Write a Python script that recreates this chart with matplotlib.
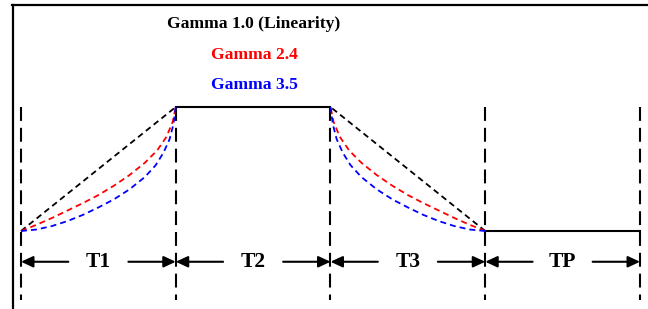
import matplotlib.pyplot as plt

plt.rcParams['font.family'] = ['Liberation Serif', 'DejaVu Serif']
plt.rcParams['lines.scale_dashes'] = False

# tramos de tiempo (limites) y niveles
limites = [0, 1, 2, 3, 4]
tramos = ['T1', 'T2', 'T3', 'TP']
nivel_bajo = 0.0
nivel_alto = 1.0

# curvas (fraccion de tiempo, fraccion de nivel) en la subida
t_rojo = [0, 0.1, 0.2, 0.3, 0.4, 0.5, 0.6, 0.7, 0.8, 0.88, 0.94, 0.98, 1.0]
f_rojo = [0, 0.05, 0.105, 0.165, 0.225, 0.29, 0.365, 0.45, 0.55, 0.65, 0.76, 0.88, 1.0]
t_azul = [0, 0.1, 0.2, 0.3, 0.4, 0.5, 0.6, 0.7, 0.8, 0.87, 0.92, 0.96, 0.985, 1.0]
f_azul = [0, 0.012, 0.04, 0.08, 0.13, 0.19, 0.255, 0.335, 0.435, 0.53, 0.63, 0.74, 0.86, 1.0]

etiquetas = ['Gamma 1.0 (Linearity)', 'Gamma 2.4', 'Gamma 3.5']
colores = ['black', 'red', 'blue']

fig = plt.figure(figsize=(6.48, 3.09), dpi=100)
ax = fig.add_axes([0, 0, 1, 1])
ax.set_xlim(-0.1357, 4.0517)
ax.set_ylim(-0.629, 1.863)
ax.axis('off')

# marco (arriba e izquierda)
ax.plot([0.0185, 1], [0.9854, 0.9854], color='black', lw=1.6, transform=ax.transAxes, clip_on=False)
ax.plot([0.0201, 0.0201], [0.9854, 0], color='black', lw=1.6, transform=ax.transAxes, clip_on=False)

# lineas verticales discontinuas
for x in limites:
    ax.plot([x, x], [nivel_alto, -0.56], color='black', lw=1.5, dashes=(10, 5))

# tramos constantes
ax.plot([limites[1], limites[2]], [nivel_alto, nivel_alto], color='black', lw=1.5)
ax.plot([limites[3], limites[4]], [nivel_bajo, nivel_bajo], color='black', lw=1.5)

# curvas de subida (T1) y bajada (T3)
curvas = [([0, 1], [0, 1]), (t_rojo, f_rojo), (t_azul, f_azul)]
for (tt, ff), c in zip(curvas, colores):
    xs = [limites[0] + t * (limites[1] - limites[0]) for t in tt]
    ys = [nivel_bajo + f * (nivel_alto - nivel_bajo) for f in ff]
    ax.plot(xs, ys, color=c, lw=1.3, dashes=(4.3, 2.9))
    xs = [limites[3] - t * (limites[3] - limites[2]) for t in tt]
    ax.plot(xs, ys, color=c, lw=1.3, dashes=(4.3, 2.9))

# flechas y nombres de tramos
y_flecha = -0.248
for i, nombre in enumerate(tramos):
    centro = (limites[i] + limites[i + 1]) / 2
    ax.text(centro, y_flecha, nombre, ha='center', va='center',
            fontsize=15.5, fontweight='bold')
    estilo = dict(arrowstyle='-|>,head_length=0.6,head_width=0.28',
                  color='black', lw=1.5, shrinkA=0, shrinkB=0, mutation_scale=12)
    ax.annotate('', xy=(limites[i], y_flecha), xytext=(centro - 0.194, y_flecha), arrowprops=estilo)
    ax.annotate('', xy=(limites[i + 1], y_flecha), xytext=(centro + 0.194, y_flecha), arrowprops=estilo)

# leyenda en texto
for txt, c, y in zip(etiquetas, colores, [1.669, 1.419, 1.177]):
    ax.text(1.506, y, txt, color=c, ha='center', va='center',
            fontsize=12.6, fontweight='bold')

fig.savefig('out.png', dpi=100)
